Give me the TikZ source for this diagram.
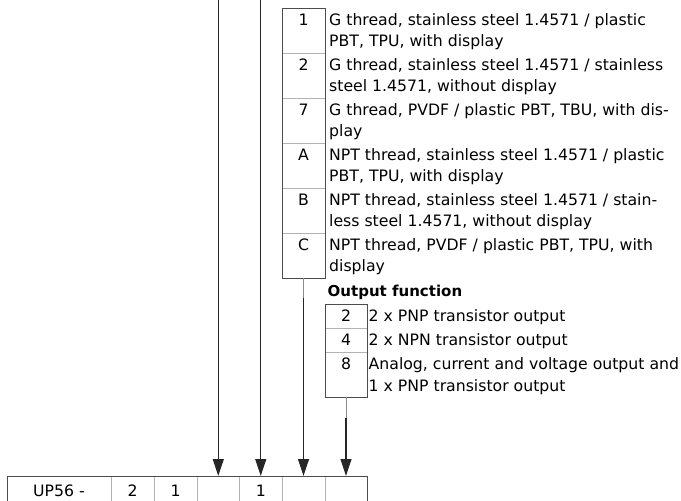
\documentclass[tikz,border=0pt]{standalone}
\usepackage{fontspec}
\setmainfont{DejaVu Sans}
\usetikzlibrary{arrows.meta,calc}
\newcommand\txtfont{\fontsize{15.7}{20}\selectfont}
\newcommand\hdrfont{\fontsize{15}{18}\selectfont\bfseries}
\tikzset{
  cellbox/.style={rectangle, draw=black!30, line width=0.9pt, inner sep=0pt, outer sep=0pt, font=\txtfont},
  outerline/.style={draw=black!70, line width=1pt},
  num/.style={inner sep=0pt, anchor=base, font=\txtfont},
  lbl/.style={inner sep=0pt, anchor=base west, font=\txtfont},
  hdr/.style={inner sep=0pt, anchor=base west, font=\hdrfont},
  arr/.style={draw=black!85, line width=1.2pt, -{Triangle[length=17pt,width=11pt]}},
  stubline/.style={draw=black!45, line width=0.9pt}
}
\begin{document}
\begin{tikzpicture}[x=1pt,y=-1pt]
\useasboundingbox (0,0) rectangle (681,501);
\clip (0,0) rectangle (681,501);

% ---------- selection table (process connection / materials) ----------
\node[cellbox, minimum width=43, minimum height=45] (t1) at (303.5,30.5) {};
\node[cellbox, minimum width=43, minimum height=45] (t2) at (303.5,75.5) {};
\node[cellbox, minimum width=43, minimum height=45] (t3) at (303.5,120.5) {};
\node[cellbox, minimum width=43, minimum height=45] (t4) at (303.5,165.5) {};
\node[cellbox, minimum width=43, minimum height=45] (t5) at (303.5,210.5) {};
\node[cellbox, minimum width=43, minimum height=45] (t6) at (303.5,255.5) {};
\draw[outerline] (t1.north west) rectangle (t6.south east);

\node[num] (n1) at ($(t1.north)+(0,17.5)$) {1};
\node[lbl] (l1a) at ($(t1.north)+(25.5,17.5)$) {G thread, stainless steel 1.4571 / plastic};
\node[lbl] (l1b) at ($(t1.north)+(25.5,38.5)$) {PBT, TPU, with display};
\node[num] (n2) at ($(t2.north)+(0,17.5)$) {2};
\node[lbl] (l2a) at ($(t2.north)+(25.5,17.5)$) {G thread, stainless steel 1.4571 / stainless};
\node[lbl] (l2b) at ($(t2.north)+(25.5,38.5)$) {steel 1.4571, without display};
\node[num] (n3) at ($(t3.north)+(0,17.5)$) {7};
\node[lbl] (l3a) at ($(t3.north)+(25.5,17.5)$) {G thread, PVDF / plastic PBT, TBU, with dis-};
\node[lbl] (l3b) at ($(t3.north)+(25.5,38.5)$) {play};
\node[num] (n4) at ($(t4.north)+(0,17.5)$) {A};
\node[lbl] (l4a) at ($(t4.north)+(25.5,17.5)$) {NPT thread, stainless steel 1.4571 / plastic};
\node[lbl] (l4b) at ($(t4.north)+(25.5,38.5)$) {PBT, TPU, with display};
\node[num] (n5) at ($(t5.north)+(0,17.5)$) {B};
\node[lbl] (l5a) at ($(t5.north)+(25.5,17.5)$) {NPT thread, stainless steel 1.4571 / stain-};
\node[lbl] (l5b) at ($(t5.north)+(25.5,38.5)$) {less steel 1.4571, without display};
\node[num] (n6) at ($(t6.north)+(0,17.5)$) {C};
\node[lbl] (l6a) at ($(t6.north)+(25.5,17.5)$) {NPT thread, PVDF / plastic PBT, TPU, with};
\node[lbl] (l6b) at ($(t6.north)+(25.5,38.5)$) {display};

% ---------- output function table ----------
\node[hdr] (ohdr) at (327.5,296) {Output function};
\node[cellbox, minimum width=42, minimum height=24] (o1) at (346,316) {};
\node[cellbox, minimum width=42, minimum height=24] (o2) at (346,340) {};
\node[cellbox, minimum width=42, minimum height=45] (o3) at (346,374.5) {};
\draw[outerline] (o1.north west) rectangle (o3.south east);

\node[num] (m1) at ($(o1.north)+(0,17)$) {2};
\node[lbl] (k1) at ($(o1.north)+(22.5,17)$) {2 x PNP transistor output};
\node[num] (m2) at ($(o2.north)+(0,17)$) {4};
\node[lbl] (k2) at ($(o2.north)+(22.5,17)$) {2 x NPN transistor output};
\node[num] (m3) at ($(o3.north)+(0,17)$) {8};
\node[lbl] (k3a) at ($(o3.north)+(22.5,17)$) {Analog, current and voltage output and};
\node[lbl] (k3b) at ($(o3.north)+(22.5,39)$) {1 x PNP transistor output};

% ---------- type code row ----------
\node[cellbox, minimum width=104, minimum height=30] (c1) at (59,491) {UP56 -};
\node[cellbox, minimum width=43, minimum height=30] (c2) at (132.5,491) {2};
\node[cellbox, minimum width=43, minimum height=30] (c3) at (175.5,491) {1};
\node[cellbox, minimum width=42.5, minimum height=30] (c4) at (218.25,491) {};
\node[cellbox, minimum width=42.5, minimum height=30] (c5) at (260.75,491) {1};
\node[cellbox, minimum width=43, minimum height=30] (c6) at (303.5,491) {};
\node[cellbox, minimum width=42, minimum height=30] (c7) at (346,491) {};
\draw[outerline] (c1.south west) |- (c7.north east) -- (c7.south east);

% ---------- connectors ----------
\coordinate (a4) at (218.25,0);
\coordinate (a5) at (260.75,0);
\coordinate (s6) at (303.5,298);
\coordinate (s7) at (346,418);
\draw[arr] (a4) -- (c4.north);
\draw[arr] (a5) -- (c5.north);
\draw[stubline] (t6.south) -- (s6);
\draw[arr] (s6) -- (c6.north);
\draw[stubline] (o3.south) -- (s7);
\draw[arr] (s7) -- (c7.north);
\end{tikzpicture}
\end{document}
